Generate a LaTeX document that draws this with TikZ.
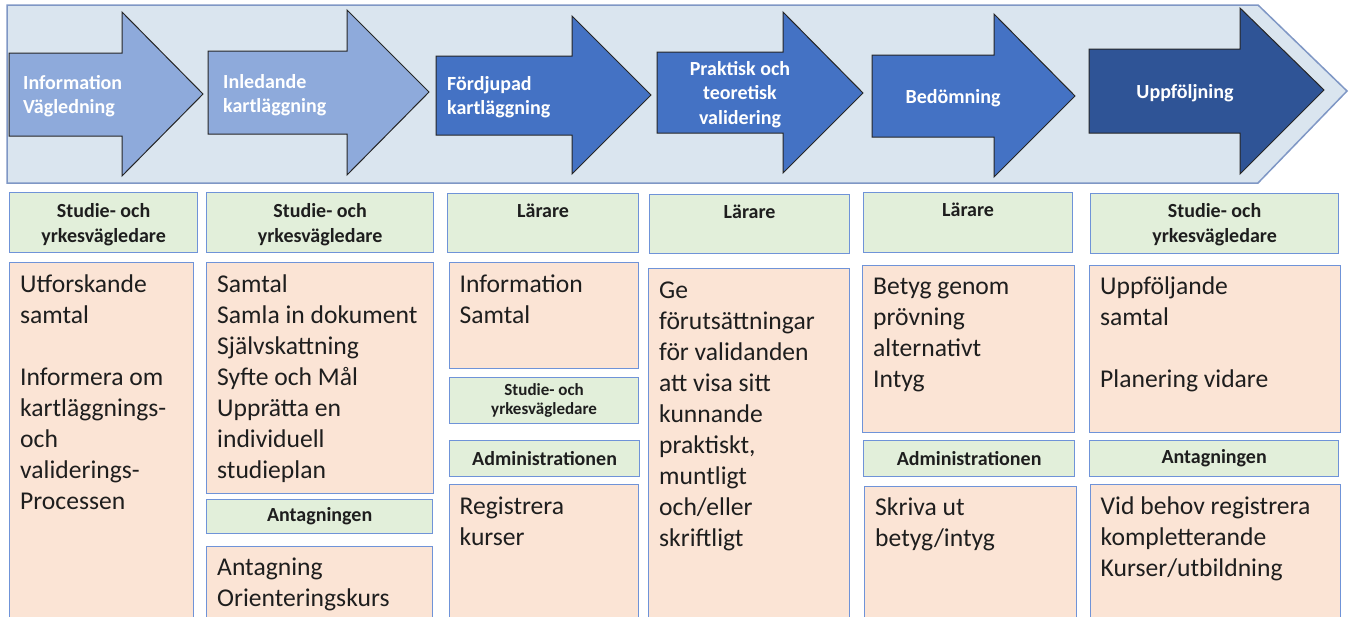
\documentclass[tikz,border=0pt]{standalone}
\usepackage{fontspec}
\setmainfont{Carlito}
\usetikzlibrary{positioning}
\definecolor{band}{HTML}{DAE5EF}
\definecolor{bandline}{HTML}{7F97C5}
\definecolor{lightarrow}{HTML}{8EAADB}
\definecolor{midarrow}{HTML}{4472C4}
\definecolor{darkarrow}{HTML}{2F5496}
\definecolor{roll}{HTML}{E2EFDA}
\definecolor{task}{HTML}{FBE4D5}
\definecolor{boxline}{HTML}{6F93D8}
\definecolor{ink}{HTML}{1E1E1E}

\begin{document}
\begin{tikzpicture}[x=1pt, y=-1pt,
	rollbox/.style={draw=boxline, fill=roll, line width=1.2pt, anchor=north west, inner sep=0pt, align=center, text=ink, font=\bfseries\fontsize{20}{25}\selectfont},
	taskbox/.style={draw=boxline, fill=task, line width=1.2pt, anchor=north west, inner sep=0pt},
	rolltext/.style={anchor=north, inner sep=0pt, align=center, text=ink, font=\bfseries\fontsize{20}{25}\selectfont},
	tasktext/.style={anchor=north west, inner sep=0pt, align=left, text=ink, font=\fontsize{25.6}{31}\selectfont},
	phase/.style={draw=black!85, line width=1pt},
	phasetext/.style={anchor=north west, inner sep=0pt, align=left, text=white, font=\bfseries\fontsize{20}{24.5}\selectfont}]
	\clip (0,0) rectangle (1349,616);
	% process band
	\filldraw[fill=band, draw=bandline, line width=1.5pt] (7,5) -- (1258,5) -- (1347,91) -- (1258,183) -- (7,183) -- cycle;
	\filldraw[phase, fill=lightarrow] (9,53) -- (122,53) -- (122,12) -- (203,94) -- (122,176) -- (122,136) -- (9,136) -- cycle;
	\filldraw[phase, fill=lightarrow] (208,51) -- (347,51) -- (347,10) -- (429,92) -- (347,175) -- (347,134) -- (208,134) -- cycle;
	\filldraw[phase, fill=midarrow] (436,56) -- (572,56) -- (572,16) -- (651,95) -- (572,174) -- (572,135) -- (436,135) -- cycle;
	\filldraw[phase, fill=midarrow] (657,52) -- (783,52) -- (783,12) -- (863,93) -- (783,173) -- (783,133) -- (657,133) -- cycle;
	\filldraw[phase, fill=midarrow] (872,55) -- (994,55) -- (994,14) -- (1075,96) -- (994,177) -- (994,137) -- (872,137) -- cycle;
	\filldraw[phase, fill=darkarrow] (1089,49) -- (1240,49) -- (1240,8) -- (1324,90) -- (1240,174) -- (1240,133) -- (1089,133) -- cycle;
	\node[phasetext] (t1) at (23,72) {\strut Information\\Vägledning};
	\node[phasetext] (t2) at (223,71) {\strut Inledande\\kartläggning};
	\node[phasetext] (t3) at (447,73) {\strut Fördjupad\\kartläggning};
	\node[phasetext, anchor=north, align=center] (t4) at (740,58) {\strut Praktisk och\\teoretisk\\validering};
	\node[phasetext, anchor=north, align=center] (t5) at (953,86) {\strut Bedömning};
	\node[phasetext, anchor=north, align=center] (t6) at (1185,81) {\strut Uppföljning};

	% column 1
	\node[rollbox, minimum width=188pt, minimum height=60pt] (g1) at (9,192) {};
	\node[rolltext, below=7.5pt of g1.north] {\strut Studie- och\\yrkesvägledare};
	\node[taskbox, minimum width=184pt, minimum height=380pt] (p1) at (9,262) {};
	\node[tasktext, below right=8.5pt and 11pt of p1.north west] {\strut Utforskande\\samtal\\\strut\\Informera om\\kartläggnings-\\och\\validerings-\\Processen};

	% column 2
	\node[rollbox, minimum width=227pt, minimum height=60pt] (g2) at (206,192) {};
	\node[rolltext, below=7.5pt of g2.north] {\strut Studie- och\\yrkesvägledare};
	\node[taskbox, minimum width=227pt, minimum height=231pt] (p2) at (206,262) {};
	\node[tasktext, below right=8.5pt and 11pt of p2.north west] {\strut Samtal\\Samla in dokument\\Självskattning\\Syfte och Mål\\Upprätta en\\individuell\\studieplan};
	\node[rollbox, minimum width=226pt, minimum height=34pt] (a2) at (206,499) {Antagningen};
	\node[taskbox, minimum width=226pt, minimum height=100pt] (q2) at (206,546) {};
	\node[tasktext, below right=8pt and 11pt of q2.north west] {\strut Antagning\\Orienteringskurs};

	% column 3
	\node[rollbox, minimum width=191pt, minimum height=59pt] (g3) at (447,193) {};
	\node[rolltext, below=7pt of g3.north] {\strut Lärare};
	\node[taskbox, minimum width=189pt, minimum height=106pt] (p3) at (449,262) {};
	\node[tasktext, below right=8.5pt and 10.5pt of p3.north west] {\strut Information\\Samtal};
	\node[rollbox, minimum width=189pt, minimum height=46pt, font=\bfseries\fontsize{17}{19}\selectfont] (s3) at (449,377) {Studie- och\\yrkesvägledare};
	\node[rollbox, minimum width=190pt, minimum height=36pt] (a3) at (449,440) {Administrationen};
	\node[taskbox, minimum width=189pt, minimum height=160pt] (q3) at (449,484) {};
	\node[tasktext, below right=8.5pt and 10.5pt of q3.north west] {\strut Registrera\\kurser};

	% column 4
	\node[rollbox, minimum width=200pt, minimum height=59pt] (g4) at (649,194) {};
	\node[rolltext, below=7pt of g4.north] {\strut Lärare};
	\node[taskbox, minimum width=201pt, minimum height=380pt] (p4) at (648,268) {};
	\node[tasktext, below right=8.5pt and 11pt of p4.north west] {\strut Ge\\förutsättningar\\för validanden\\att visa sitt\\kunnande\\praktiskt,\\muntligt\\och/eller\\skriftligt};

	% column 5
	\node[rollbox, minimum width=209pt, minimum height=60pt] (g5) at (863,192) {};
	\node[rolltext, below=7pt of g5.north] {\strut Lärare};
	\node[taskbox, minimum width=212pt, minimum height=167pt] (p5) at (862,265) {};
	\node[tasktext, below right=8pt and 11pt of p5.north west] {\strut Betyg genom\\prövning\\alternativt\\Intyg};
	\node[rollbox, minimum width=211pt, minimum height=36pt] (a5) at (863,440) {Administrationen};
	\node[taskbox, minimum width=212pt, minimum height=160pt] (q5) at (864,486) {};
	\node[tasktext, below right=8pt and 11pt of q5.north west] {\strut Skriva ut\\betyg/intyg};

	% column 6
	\node[rollbox, minimum width=248pt, minimum height=60pt] (g6) at (1090,193) {};
	\node[rolltext, below=7pt of g6.north] {\strut Studie- och\\yrkesvägledare};
	\node[taskbox, minimum width=251pt, minimum height=167pt] (p6) at (1089,265) {};
	\node[tasktext, below right=8pt and 11pt of p6.north west] {\strut Uppföljande\\samtal\\\strut\\Planering vidare};
	\node[rollbox, minimum width=249pt, minimum height=36pt] (a6) at (1089,440) {Antagningen};
	\node[taskbox, minimum width=250pt, minimum height=160pt] (q6) at (1090,484) {};
	\node[tasktext, below right=8.5pt and 10.5pt of q6.north west] {\strut Vid behov registrera\\kompletterande\\Kurser/utbildning};
\end{tikzpicture}
\end{document}
